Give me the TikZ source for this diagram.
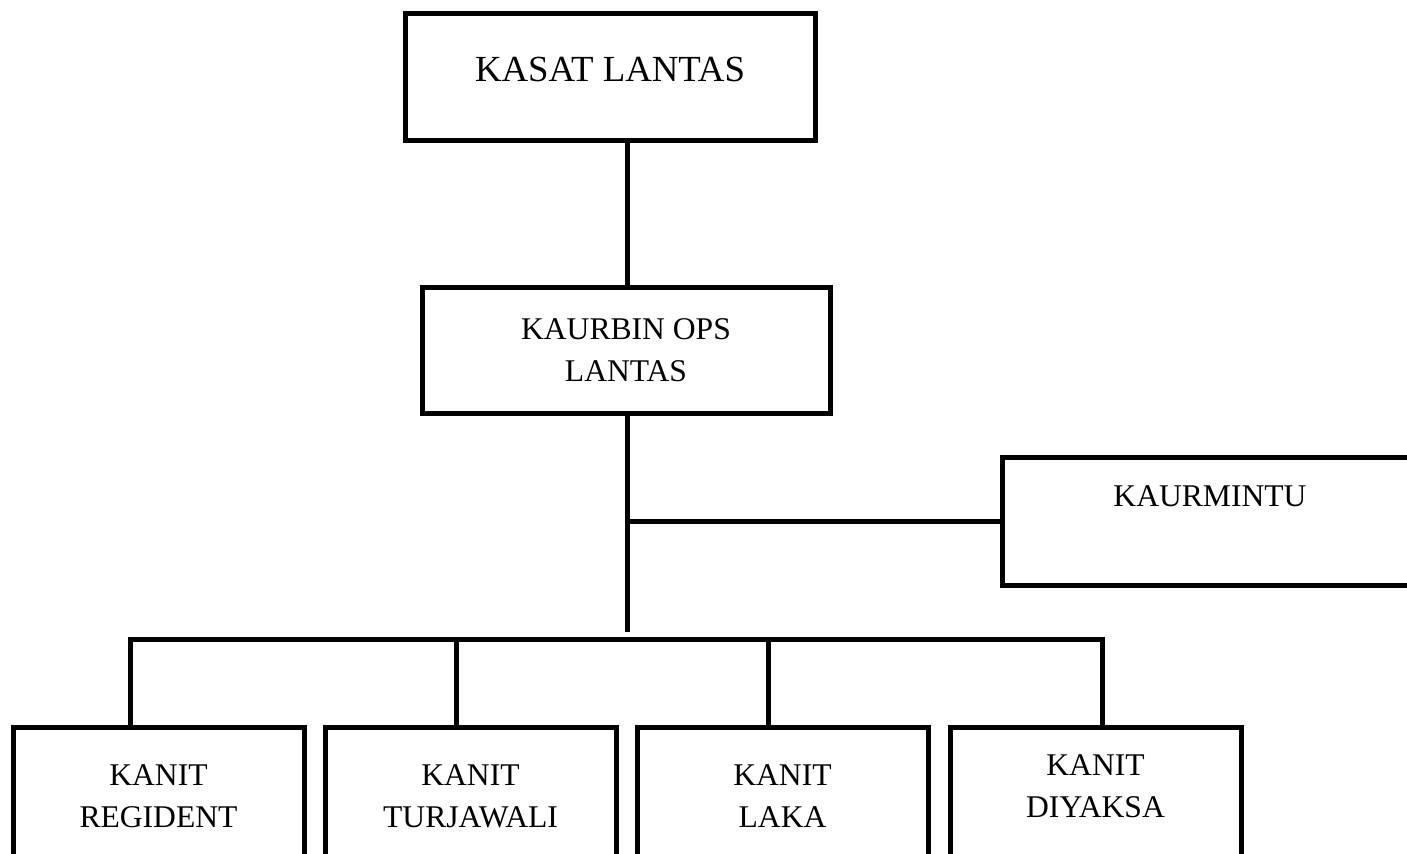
\documentclass[tikz,border=0pt]{standalone}
\usepackage{fontspec}
\setmainfont{Liberation Serif}
\usepackage{tikz}
\usetikzlibrary{positioning}

\begin{document}
\begin{tikzpicture}[
		x=0.5pt, y=-0.5pt,
		line width=2.5pt,
		node distance=8pt,
		box/.style={
			draw,
			minimum width=145.5pt,
			minimum height=69pt,
			inner sep=2pt,
			align=center,
			font=\fontsize{15.8}{21}\selectfont
		},
		headbox/.style={box, minimum width=205pt, minimum height=63.5pt}
		]
		
		\path[use as bounding box, clip] (0,0) rectangle (1407,853);
		
		\node[headbox, font=\fontsize{18.4}{22}\selectfont, text height=12.2pt, text depth=7pt] (kasat) at (610,76.5) {KASAT LANTAS};
		\node[headbox, minimum width=204pt, minimum height=63pt] (kaurbin) at (626,350) {KAURBIN OPS\\LANTAS};
		\node[headbox, minimum width=208pt, minimum height=64pt, text height=10.5pt, text depth=25pt] (kaurmintu) at (1210,521) {KAURMINTU};
		
		\node[box] (regident) at (158.5,796) {KANIT\\REGIDENT};
		\node[box, right=of regident] (turjawali) {KANIT\\TURJAWALI};
		\node[box, right=of turjawali] (laka) {KANIT\\LAKA};
		\node[box, right=8.5pt of laka] (diyaksa) {KANIT\\DIYAKSA\rule[-10pt]{0pt}{0pt}};
		
		\coordinate (trunk) at (627,632);
		\coordinate (dropA) at (130,639);
		\coordinate (dropB) at (456,639);
		\coordinate (dropC) at (768,639);
		\coordinate (dropD) at (1102,639);
		
		\draw (kaurbin.north -| trunk) -- (trunk |- kasat.south);
		\draw (kaurbin.south -| trunk) -- (trunk);
		\draw (kaurmintu.west) -- (kaurmintu.west -| trunk);
		\draw (regident.north -| dropA) -- (dropA) -- (dropD) -- (diyaksa.north -| dropD);
		\draw (dropB) -- (turjawali.north -| dropB);
		\draw (dropC) -- (laka.north -| dropC);
		
	\end{tikzpicture}
\end{document}
